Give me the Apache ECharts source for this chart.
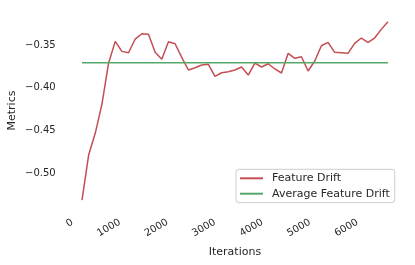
<!DOCTYPE html>
<html>
<head>
<meta charset="utf-8">
<script src="https://cdn.jsdelivr.net/npm/echarts@6/dist/echarts.min.js"></script>
<style>
html,body{margin:0;padding:0;background:#fff;}
#chart{width:415px;height:265px;}
</style>
</head>
<body>
<div id="chart"></div>
<script>
// Data
var iterations = [200,340,480,620,760,900,1040,1180,1320,1460,1600,1740,1880,2020,2160,2300,2440,2580,2720,2860,3000,3140,3280,3420,3560,3700,3840,3980,4120,4260,4400,4540,4680,4820,4960,5100,5240,5380,5520,5660,5800,5940,6080,6220,6360,6500,6640];
var featureDrift = [-0.5312,-0.4786,-0.4529,-0.4190,-0.3710,-0.3457,-0.3574,-0.3590,-0.3430,-0.3368,
 -0.3375,-0.3585,-0.3667,-0.3461,-0.3485,-0.3644,-0.3792,-0.3765,-0.3734,-0.3726,
 -0.3866,-0.3824,-0.3812,-0.3792,-0.3757,-0.3851,-0.3711,-0.3757,-0.3719,-0.3780,
 -0.3827,-0.3597,-0.3655,-0.3637,-0.3804,-0.3687,-0.3508,-0.3468,-0.3585,-0.3590,
 -0.3597,-0.3480,-0.3418,-0.3468,-0.3418,-0.3317,-0.3228];
var avgIterations = [200, 6640];
var avgDrift = [-0.3708, -0.3708];
var xTicks = [0,1000,2000,3000,4000,5000,6000];
var yTicks = [-0.50,-0.45,-0.40,-0.35];

var FONT = 'DejaVu Sans';
var TXT = '#262626';
var chart = echarts.init(document.getElementById('chart'), null, {renderer:'canvas'});
chart.setOption({
  animation:false,
  backgroundColor:'#ffffff',
  grid:{left:66.7, right:11.8, top:12.1, bottom:56, containLabel:false, outerBoundsMode:'none'},
  xAxis:{
    type:'value', min:-122, max:6962,
    name:'Iterations', nameLocation:'middle', nameGap:38, nameMoveOverlap:false,
    nameTextStyle:{fontFamily:FONT, fontSize:11, color:TXT},
    axisLine:{show:false}, axisTick:{show:false}, splitLine:{show:false},
    axisLabel:{customValues:xTicks, rotate:30, margin:12.5, fontFamily:FONT, fontSize:10, color:TXT,
      formatter:function(v){return String(v);}}
  },
  yAxis:{
    type:'value', min:-0.5417, max:-0.3115,
    name:'Metrics', nameLocation:'middle', nameGap:49.4, nameMoveOverlap:false,
    nameTextStyle:{fontFamily:FONT, fontSize:11, color:TXT},
    axisLine:{show:false}, axisTick:{show:false}, splitLine:{show:false},
    axisLabel:{customValues:yTicks, margin:11, fontFamily:FONT, fontSize:10, color:TXT,
      formatter:function(v){return (v<0?'\u2212':'')+Math.abs(v).toFixed(2);}}
  },
  legend:{
    orient:'vertical', left:236, top:169.3,
    padding:[2.5,5,2.5,4], itemGap:2.4, itemWidth:23, itemHeight:2, icon:'rect',
    backgroundColor:'rgba(255,255,255,0.8)', borderColor:'#cccccc', borderWidth:1, borderRadius:3,
    textStyle:{fontFamily:FONT, fontSize:11, color:TXT, lineHeight:13, padding:[0,0,0,4]},
    data:['Feature Drift','Average Feature Drift']
  },
  series:[
    {name:'Feature Drift', type:'line', showSymbol:false, symbol:'none',
     lineStyle:{color:'#c44e52', width:1.5}, itemStyle:{color:'#c44e52'},
     data:iterations.map(function(x,i){return [x, featureDrift[i]];})},
    {name:'Average Feature Drift', type:'line', showSymbol:false, symbol:'none',
     lineStyle:{color:'#55a868', width:1.5}, itemStyle:{color:'#55a868'},
     data:avgIterations.map(function(x,i){return [x, avgDrift[i]];})}
  ]
});
</script>
</body>
</html>
